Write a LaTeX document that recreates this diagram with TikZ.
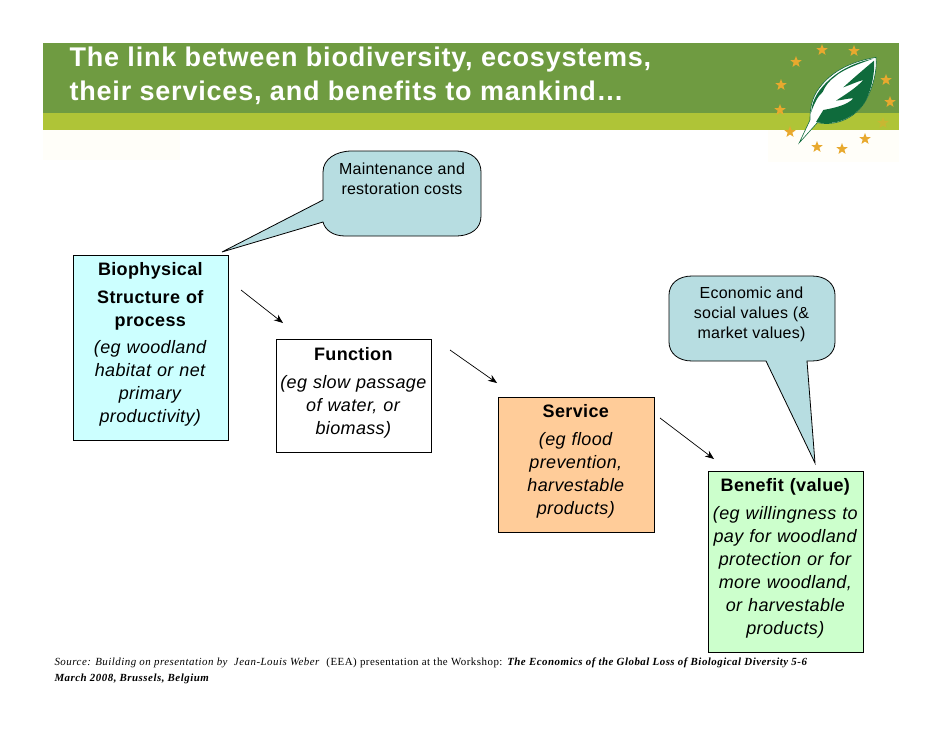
\documentclass[tikz,border=0pt]{standalone}
\usepackage{fontspec}
\setmainfont{Liberation Sans}
\newfontfamily\serifsrc{Liberation Serif}
\usetikzlibrary{shapes.geometric,arrows.meta}
\definecolor{bannerg}{HTML}{6F9B41}
\definecolor{bannerl}{HTML}{AFC437}
\definecolor{paleband}{HTML}{FFFEF9}
\definecolor{calloutfill}{HTML}{B7DDE1}
\definecolor{leafgreen}{HTML}{0F6B3C}
\definecolor{staror}{HTML}{E8A92E}
\definecolor{boxcyan}{HTML}{CCFFFF}
\definecolor{boxorange}{HTML}{FFCC99}
\definecolor{boxgreen}{HTML}{CCFFCC}
\tikzset{
  flowbox/.style={draw=black,line width=0.8pt,anchor=north,align=center,text width=153pt,inner sep=0pt,font=\fontsize{18}{23}\selectfont\addfontfeatures{LetterSpace=2}},
  callout/.style={draw=black,line width=0.8pt,fill=calloutfill},
  callouttext/.style={align=center,font=\fontsize{16}{20}\selectfont\addfontfeatures{LetterSpace=1.5}},
  flowarrow/.style={draw=black,line width=0.7pt,-{Stealth[length=9pt,width=7pt]}},
  eustar/.style={star,star points=5,star point ratio=2.4,fill=staror,inner sep=0pt,minimum size=12pt},
  titletext/.style={anchor=west,text=white,font=\fontsize{27}{30}\selectfont\bfseries\addfontfeatures{LetterSpace=3}},
  sourcetext/.style={anchor=west,font=\serifsrc\fontsize{10.9}{14}\selectfont\addfontfeatures{LetterSpace=4.5}}
}
\begin{document}
\begin{tikzpicture}[x=1pt,y=-1pt]
\useasboundingbox (0,0) rectangle (942,728);
% banner
\fill[paleband] (43,130) rectangle (180,160);
\fill[paleband] (768,130) rectangle (899,162);
\fill[bannerg] (43,43) rectangle (899,113);
\fill[bannerl] (43,113) rectangle (899,130);
\node[titletext] (t1) at (66,60) {The link between biodiversity, ecosystems,};
\node[titletext] (t2) at (66,93) {their services, and benefits to mankind…};
% stars
\foreach \n/\a/\b in {s1/822/50,s2/854/51,s3/796/62,s4/781/85,s5/886/80,s6/890/102,s7/780/110,s9/790/132,s10/865/139,s11/817/147,s12/842/149}
  \node[eustar] (\n) at (\a,\b) {};
\node[eustar,opacity=.45] (s8) at (883,123) {};
% leaf
\begin{scope}[shift={(760,30)},x=0.3333pt,y=-0.3333pt]
\fill[white,draw=leafgreen,line width=0.6pt] (348,82) .. controls (290,92) and (215,115) .. (170,185)
  .. controls (152,215) and (150,245) .. (150,270) -- (118,338) -- (130,325) -- (172,278)
  .. controls (235,290) and (290,260) .. (318,210) .. controls (340,170) and (352,120) .. (348,82) -- cycle;
\fill[leafgreen] (318,210) .. controls (290,260) and (230,290) .. (168,276) -- (190,240)
  .. controls (235,232) and (265,222) .. (280,205) .. controls (262,205) and (250,210) .. (228,212)
  .. controls (262,190) and (290,172) .. (310,150) .. controls (290,155) and (270,165) .. (250,172)
  .. controls (285,140) and (315,115) .. (342,92) .. controls (345,130) and (335,175) .. (318,210) -- cycle;
\fill[leafgreen] (340,86) .. controls (290,96) and (225,120) .. (178,182) .. controls (162,205) and (155,225) .. (153,248)
  .. controls (162,222) and (172,200) .. (188,186) .. controls (195,168) and (210,150) .. (225,140)
  .. controls (245,120) and (300,100) .. (340,86) -- cycle;
\end{scope}
% callouts
\draw[callout] (222,252) -- (323,200) -- (323,172) .. controls (323,159) and (336,151) .. (352,151) -- (455,151)
  .. controls (472,151) and (481,160) .. (481,172) -- (481,216) .. controls (481,228) and (472,236) .. (455,236)
  -- (345,236) .. controls (333,236) and (325,230) .. (323,222) -- cycle;
\node[callouttext] (c1) at (402,179) {Maintenance and\\restoration costs};
\draw[callout] (815,463) -- (807,361) -- (812,361) .. controls (826,361) and (835,353) .. (835,342) -- (835,295)
  .. controls (835,284) and (826,276) .. (812,276) -- (692,276) .. controls (678,276) and (669,284) .. (669,295)
  -- (669,342) .. controls (669,353) and (678,361) .. (692,361) -- (766,361) -- cycle;
\node[callouttext] (c2) at (751.5,314) {Economic and\\social values (\&\\market values)};
% boxes
\node[flowbox,fill=boxcyan,minimum width=155pt,minimum height=185pt] (bio) at (150.5,255) {\textbf{Biophysical}\\[5pt]\textbf{Structure of}\\\textbf{process}\\[4pt]\textit{(eg woodland}\\\textit{habitat or net}\\\textit{primary}\\\textit{productivity)}\\[-13pt]\mbox{}};
\node[flowbox,fill=white,minimum width=155pt,minimum height=113pt] (fun) at (353.5,339) {\textbf{Function}\\[5pt]\textit{(eg slow passage}\\\textit{of water, or}\\\textit{biomass)}\\[-13pt]\mbox{}};
\node[flowbox,fill=boxorange,minimum width=156pt,minimum height=135pt] (srv) at (576,397) {\textbf{Service}\\[5pt]\textit{(eg flood}\\\textit{prevention,}\\\textit{harvestable}\\\textit{products)}\\[-13pt]\mbox{}};
\node[flowbox,fill=boxgreen,minimum width=155pt,minimum height=181pt] (ben) at (785.5,471) {\textbf{Benefit (value)}\\[5pt]\textit{(eg willingness to}\\\textit{pay for woodland}\\\textit{protection or for}\\\textit{more woodland,}\\\textit{or harvestable}\\\textit{products)}\\[-13pt]\mbox{}};
% arrows
\coordinate (a1s) at (241,290); \coordinate (a1e) at (283,323);
\coordinate (a2s) at (450,350); \coordinate (a2e) at (497,383);
\coordinate (a3s) at (660,418); \coordinate (a3e) at (714,459);
\draw[flowarrow] (a1s) -- (a1e);
\draw[flowarrow] (a2s) -- (a2e);
\draw[flowarrow] (a3s) -- (a3e);
% source
\node[sourcetext] (src1) at (51,663) {\textit{Source: Building on presentation by\ \ Jean-Louis Weber}\ \ (EEA) presentation at the Workshop: \textbf{\textit{The Economics of the Global Loss of Biological Diversity 5-6}}};
\node[sourcetext] (src2) at (51,679) {\textbf{\textit{March 2008, Brussels, Belgium}}};
\end{tikzpicture}
\end{document}
